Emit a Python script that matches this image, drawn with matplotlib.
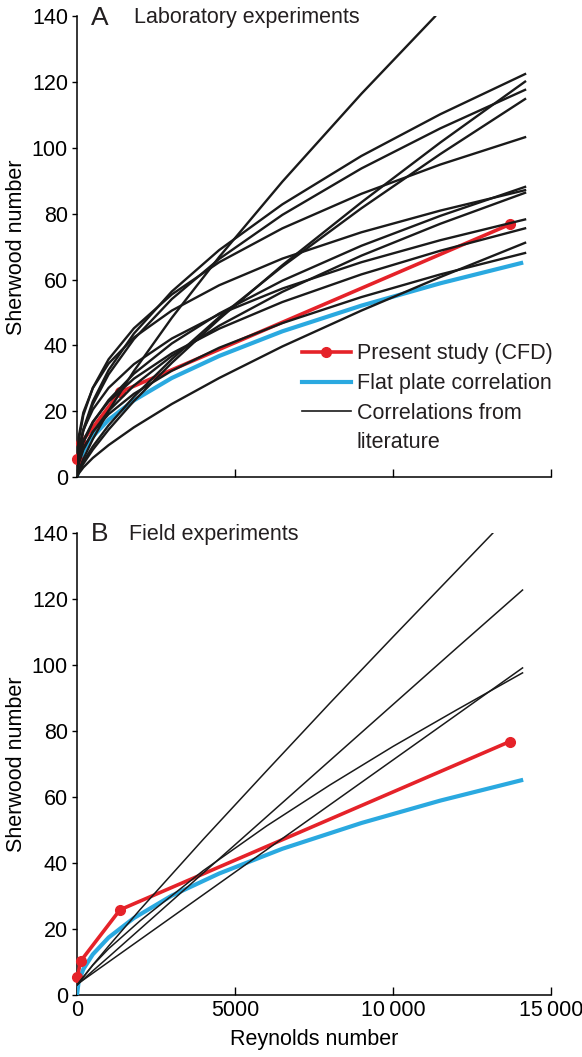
import matplotlib
matplotlib.use("Agg")
import matplotlib.pyplot as plt
from matplotlib.lines import Line2D

RED, BLUE, BLACK = "#e52229", "#2aa9e0", "#1a1a1a"
FONT = ["Liberation Sans", "DejaVu Sans"]

# present study (CFD) and flat plate correlation
cfd_re = [10, 120, 1360, 13700]
cfd_sh = [5.5, 10.3, 25.8, 76.8]
plate_re = [0, 50, 200, 500, 1000, 1800, 3000, 4500, 6500, 9000, 11500, 14120]
plate_sh = [0, 3.9, 7.8, 12.3, 17.4, 23.3, 30.1, 36.8, 44.3, 52.1, 58.9, 65.2]

# A: laboratory correlations
lab_re = [0, 50, 200, 500, 1000, 1800, 3000, 4500, 6500, 9000, 11500, 14180]
lab_1 = [0, 7.3, 14.5, 23.0, 32.5, 43.6, 56.4, 69.0, 82.9, 97.6, 110.3, 122.5]
lab_2 = [0, 1.3, 4.0, 8.3, 14.4, 23.1, 34.7, 48.0, 64.4, 83.5, 101.7, 120.2]
lab_3 = [0, 7.0, 14.0, 22.1, 31.2, 41.9, 54.1, 66.3, 79.7, 93.8, 106.0, 117.7]
lab_4 = [0, 1.7, 4.7, 9.3, 15.7, 24.4, 35.8, 48.6, 64.0, 81.7, 98.2, 114.9]
lab_5 = [0, 10.8, 18.8, 27.1, 35.8, 45.2, 55.5, 65.3, 75.6, 86.1, 95.0, 103.3]
lab_6 = [0, 5.2, 10.5, 16.6, 23.4, 31.4, 40.6, 49.7, 59.7, 70.3, 79.4, 88.2]
lab_7 = [0, 12.1, 19.6, 27.0, 34.5, 42.4, 50.6, 58.3, 66.4, 74.4, 81.0, 87.2]
lab_8 = [0, 3.9, 8.3, 13.7, 20.1, 27.8, 36.8, 46.0, 56.3, 67.3, 77.0, 86.4]
lab_9 = [0, 8.2, 14.3, 20.5, 27.1, 34.3, 42.1, 49.5, 57.3, 65.3, 72.0, 78.3]
lab_10 = [0, 5.9, 11.1, 16.8, 22.9, 29.9, 37.6, 45.1, 53.2, 61.6, 68.8, 75.6]
lab_11 = [0, 1.0, 2.9, 5.8, 9.7, 15.1, 22.2, 30.1, 39.7, 50.6, 60.8, 71.2]
lab_12 = [0, 4.5, 8.8, 13.7, 19.1, 25.3, 32.3, 39.3, 46.8, 54.7, 61.6, 68.1]
lab_steep_re = [0, 50, 200, 500, 1000, 1800, 3000, 4500, 6500, 9000, 11330]
lab_steep = [0, 1.8, 5.5, 11.5, 20.1, 32.2, 48.4, 66.9, 89.8, 116.5, 140]

# B: field correlations
field_re = [0, 500, 1000, 2000, 4000, 6000, 8000, 10000, 12000, 14100]
field_1 = [3, 7.3, 11.5, 20, 37, 54, 71, 88, 105, 122.7]
field_2 = [3.2, 6.6, 10, 16.8, 30.4, 44, 57.6, 71.2, 84.8, 99.1]
field_3 = [3, 9, 14, 22.5, 37.7, 51.2, 63.6, 75.3, 86.3, 97.6]
field_steep_re = [0, 500, 1000, 2000, 4000, 6000, 8000, 10000, 12000, 13165]
field_steep = [3, 9.1, 14.8, 25.9, 47.2, 67.9, 88.4, 108.5, 128.4, 140]

x_ticks = [0, 5000, 10000, 15000]
x_labels = ["0", "5000", "10\u2009000", "15\u2009000"]
y_ticks = [0, 20, 40, 60, 80, 100, 120, 140]

plt.rcParams.update({"font.family": FONT, "font.size": 15.5,
                     "axes.linewidth": 1.1, "text.color": "#231f20"})

fig = plt.figure(figsize=(5.82, 10.57), dpi=100)
axA = fig.add_axes([0.1323, 0.5487, 0.8144, 0.4357])
axB = fig.add_axes([0.1323, 0.0587, 0.8144, 0.4371])


def frame(ax, letter, title, tx):
    ax.set_xlim(0, 15000); ax.set_ylim(0, 140)
    for s in ("top", "right"):
        ax.spines[s].set_visible(False)
    ax.set_xticks(x_ticks); ax.set_yticks(y_ticks)
    ax.tick_params(axis="x", direction="in", length=6, width=1)
    ax.tick_params(axis="y", direction="out", length=3.5, width=1, pad=3)
    ax.set_ylabel("Sherwood number", va="center")
    ax.yaxis.set_label_coords(-0.127, 0.5)
    ax.text(0.03, 0.997, letter, transform=ax.transAxes, fontsize=19,
            va="center", ha="left")
    ax.text(tx, 0.997, title, transform=ax.transAxes, va="center", ha="left")


def common(ax):
    ax.plot(plate_re, plate_sh, color=BLUE, lw=3, solid_capstyle="butt", zorder=3)
    ax.plot(cfd_re, cfd_sh, color=RED, lw=2.6, marker="o", ms=7,
            zorder=4, clip_on=False)


# ---- A: laboratory ----
frame(axA, "A", "Laboratory experiments", 0.12)
common(axA)
for sh in (lab_1, lab_2, lab_3, lab_4, lab_5, lab_6, lab_7, lab_8,
           lab_9, lab_10, lab_11, lab_12):
    axA.plot(lab_re, sh, color=BLACK, lw=1.7, zorder=5)
axA.plot(lab_steep_re, lab_steep, color=BLACK, lw=1.7, zorder=5)
axA.set_xticklabels([])

handles = [Line2D([], [], color=RED, lw=2.6, marker="o", ms=7),
           Line2D([], [], color=BLUE, lw=3),
           Line2D([], [], color=BLACK, lw=1.2),
           Line2D([], [], color="none")]
axA.legend(handles, ["Present study (CFD)", "Flat plate correlation",
                     "Correlations from", "literature"],
           loc="upper left", bbox_to_anchor=(0.474, 0.29), frameon=False,
           handlelength=2.3, handletextpad=0.25, labelspacing=0.4,
           borderpad=0, borderaxespad=0, fontsize=15.5)

# ---- B: field ----
frame(axB, "B", "Field experiments", 0.11)
common(axB)
for sh in (field_1, field_2, field_3):
    axB.plot(field_re, sh, color=BLACK, lw=1.1, zorder=5)
axB.plot(field_steep_re, field_steep, color=BLACK, lw=1.1, zorder=5)
axB.set_xticklabels(x_labels)
axB.set_xlabel("Reynolds number", labelpad=6)

fig.savefig("out.png", dpi=100)
